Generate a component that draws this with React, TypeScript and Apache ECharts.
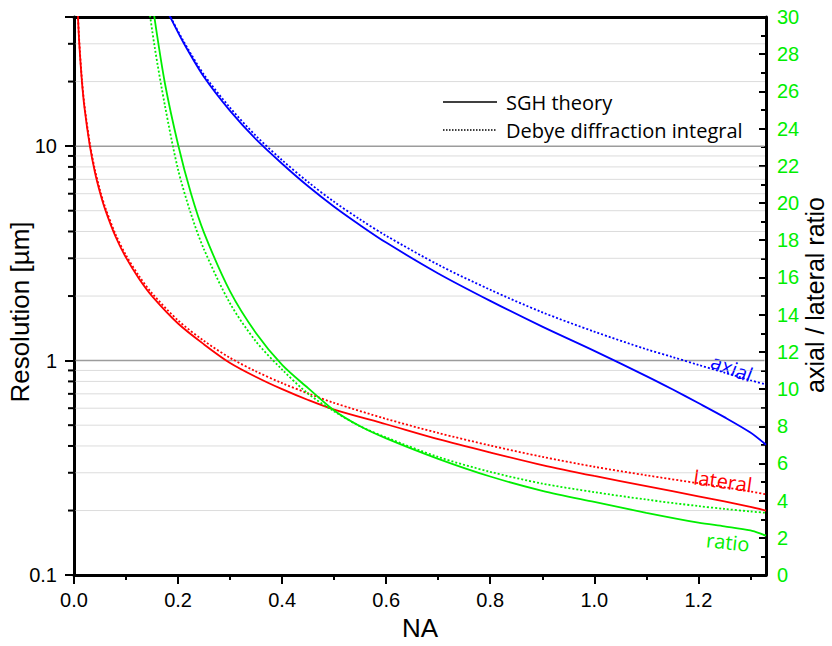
import React, { useEffect, useRef } from 'react';
import * as echarts from 'echarts';

// ---- data ----
const LATERAL_NA = [0.005, 0.0075, 0.01, 0.015, 0.02, 0.03, 0.04, 0.05, 0.06, 0.08, 0.1, 0.125, 0.15, 0.2, 0.25, 0.3, 0.35, 0.4, 0.45, 0.5, 0.6, 0.7, 0.8, 0.9, 1.0, 1.1, 1.2, 1.25, 1.3, 1.33];
const LATERAL_SGH = [62, 41, 30.5, 20.3, 15.2, 10.2, 7.6, 6.08, 5.06, 3.78, 3.02, 2.41, 2.0, 1.49, 1.19, 0.975, 0.839, 0.736, 0.655, 0.591, 0.505, 0.43, 0.373, 0.326, 0.29, 0.26, 0.233, 0.2205, 0.208, 0.2];
const LATERAL_DEBYE = [63, 42, 31.2, 20.8, 15.6, 10.45, 7.8, 6.23, 5.18, 3.88, 3.1, 2.48, 2.06, 1.54, 1.235, 1.03, 0.89, 0.785, 0.703, 0.635, 0.535, 0.46, 0.402, 0.356, 0.32, 0.292, 0.268, 0.257, 0.2455, 0.238];

const AXIAL_NA = [0.12, 0.15, 0.17, 0.186, 0.21, 0.25, 0.3, 0.35, 0.4, 0.45, 0.5, 0.55, 0.6, 0.7, 0.8, 0.9, 1.0, 1.1, 1.15, 1.2, 1.25, 1.3, 1.33];
const AXIAL_SGH = [93, 60, 47, 39.5, 30.5, 21, 14.6, 10.75, 8.28, 6.5, 5.22, 4.28, 3.55, 2.55, 1.9, 1.44, 1.11, 0.847, 0.735, 0.634, 0.545, 0.462, 0.405];
const AXIAL_DEBYE = [95, 61, 47.5, 39.8, 31, 21.5, 15.1, 11.15, 8.6, 6.8, 5.5, 4.55, 3.82, 2.8, 2.14, 1.68, 1.365, 1.13, 1.04, 0.955, 0.88, 0.81, 0.775];

const RATIO_NA = [0.1, 0.12, 0.14, 0.155, 0.175, 0.2, 0.225, 0.25, 0.3, 0.35, 0.4, 0.45, 0.5, 0.55, 0.6, 0.7, 0.8, 0.9, 1.0, 1.1, 1.2, 1.25, 1.3, 1.33];
const RATIO_SGH = [46, 38.4, 33, 29.9, 26.4, 23.15, 20.5, 18.4, 15.25, 13.0, 11.3, 10.05, 8.85, 8.0, 7.35, 6.25, 5.3, 4.53, 3.93, 3.35, 2.82, 2.62, 2.4, 2.12];
const RATIO_DEBYE = [44, 36.6, 31.4, 28.4, 25.2, 21.8, 19.4, 17.5, 14.6, 12.55, 11.05, 9.75, 8.8, 8.0, 7.4, 6.35, 5.55, 4.92, 4.46, 4.06, 3.71, 3.56, 3.42, 3.35];

const X_MIN = 0;
const X_MAX = 1.33;
const X_MAJOR_TICKS = [0, 0.2, 0.4, 0.6, 0.8, 1.0, 1.2];
const X_MINOR_TICKS = [0.1, 0.3, 0.5, 0.7, 0.9, 1.1, 1.3];
const LOG_MIN = 0.1;
const LOG_MAX = 40;
const LOG_LABELS = [0.1, 1, 10];
const LOG_MAJOR_GRID = [1, 10];
const LOG_MINOR_GRID = [0.2, 0.3, 0.4, 0.5, 0.6, 0.7, 0.8, 0.9, 2, 3, 4, 5, 6, 7, 8, 9, 20, 30];
const RATIO_MIN = 0;
const RATIO_MAX = 30;
const RATIO_STEP = 2;

const RED = '#ff0000';
const BLUE = '#0000ff';
const GREEN = '#00ee00';
const AXIS_FONT = '"Liberation Sans", Arial, sans-serif';
const NOTE_FONT = '"Open Sans", "Noto Sans", sans-serif';

const pairs = (xs: number[], ys: number[]) => xs.map((x, i) => [x, ys[i]]);

export default function App() {
  const ref = useRef<HTMLDivElement>(null);
  useEffect(() => {
    if (!ref.current) return;
    const chart = echarts.init(ref.current, undefined, { renderer: 'svg' });
    const gridData = [
      ...LOG_MAJOR_GRID.map((v) => [0, v, 1]),
      ...LOG_MINOR_GRID.map((v) => [0, v, 0]),
    ];
    const solid = (color: string) => ({ color, width: 1.8, type: 'solid' as const });
    const dotted = (color: string) => ({ color, width: 1.8, type: [2, 2] as any });
    const lineSeries = (name: string, data: number[][], style: any, yAxisIndex: number) => ({
      name,
      type: 'line',
      data,
      yAxisIndex,
      xAxisIndex: 0,
      showSymbol: false,
      symbol: 'none',
      smooth: 0.3,
      clip: true,
      lineStyle: style,
      z: 5,
      silent: true,
    });

    chart.setOption({
      animation: false,
      grid: { left: 74, right: 66, top: 17, bottom: 65, containLabel: false },
      xAxis: [
        {
          type: 'value',
          min: X_MIN,
          max: X_MAX,
          position: 'bottom',
          name: 'NA',
          nameLocation: 'middle',
          nameGap: 37,
          nameTextStyle: { fontSize: 26, fontFamily: AXIS_FONT, color: '#000' },
          axisLine: { show: true, onZero: false, lineStyle: { color: '#000', width: 3 } },
          axisTick: { show: true, inside: false, length: 9, lineStyle: { color: '#000', width: 2 }, customValues: X_MAJOR_TICKS },
          axisLabel: {
            show: true,
            customValues: X_MAJOR_TICKS,
            margin: 15,
            fontSize: 20,
            fontFamily: AXIS_FONT,
            color: '#000',
            formatter: (v: number) => v.toFixed(1),
          },
          splitLine: { show: false },
        },
        {
          type: 'value',
          min: X_MIN,
          max: X_MAX,
          position: 'bottom',
          axisLine: { show: false, onZero: false },
          axisTick: { show: true, inside: false, length: 5, lineStyle: { color: '#000', width: 2 }, customValues: X_MINOR_TICKS },
          axisLabel: { show: false },
          splitLine: { show: false },
        },
        {
          type: 'value',
          min: X_MIN,
          max: X_MAX,
          position: 'top',
          axisLine: { show: true, onZero: false, lineStyle: { color: '#000', width: 3 } },
          axisTick: { show: false },
          axisLabel: { show: false },
          splitLine: { show: false },
        },
      ],
      yAxis: [
        {
          type: 'log',
          logBase: 10,
          min: LOG_MIN,
          max: LOG_MAX,
          position: 'left',
          axisLine: { show: true, onZero: false, lineStyle: { color: '#000', width: 3 } },
          axisTick: { show: true, inside: false, length: 9, lineStyle: { color: '#000', width: 2 } },
          axisLabel: {
            show: true,
            margin: 17,
            fontSize: 20,
            fontFamily: AXIS_FONT,
            color: '#000',
            formatter: (v: number) => {
              const hit = LOG_LABELS.find((t) => Math.abs(t - v) / t < 1e-6);
              return hit === undefined ? '' : String(hit);
            },
          },
          splitLine: { show: false },
          minorTick: { show: false },
        },
        {
          type: 'value',
          min: RATIO_MIN,
          max: RATIO_MAX,
          interval: RATIO_STEP,
          position: 'right',
          axisLine: { show: true, onZero: false, lineStyle: { color: '#000', width: 3 } },
          axisTick: { show: true, inside: true, length: 7, lineStyle: { color: '#000', width: 2 } },
          minorTick: { show: true, splitNumber: 2, length: 5, lineStyle: { color: '#000', width: 2 } },
          axisLabel: { show: true, margin: 11, fontSize: 20, fontFamily: AXIS_FONT, color: GREEN },
          splitLine: { show: false },
        },
      ],
      graphic: [
        { type: 'line', shape: { x1: 443, y1: 102, x2: 497, y2: 102 }, style: { stroke: '#000', lineWidth: 1.5 }, silent: true },
        { type: 'line', shape: { x1: 443, y1: 130, x2: 497, y2: 130 }, style: { stroke: '#000', lineWidth: 1.5, lineDash: [1.5, 1.5] }, silent: true },
        { type: 'text', x: 506, y: 102, style: { text: 'SGH theory', fill: '#000', font: `20px ${NOTE_FONT}`, textVerticalAlign: 'middle', textAlign: 'left' }, silent: true },
        { type: 'text', x: 506, y: 130, style: { text: 'Debye diffraction integral', fill: '#000', font: `20px ${NOTE_FONT}`, textVerticalAlign: 'middle', textAlign: 'left' }, silent: true },
        { type: 'text', x: 732, y: 368, rotation: (-21 * Math.PI) / 180, style: { text: 'axial', fill: BLUE, font: `20px ${NOTE_FONT}`, textAlign: 'center', textVerticalAlign: 'middle' }, silent: true },
        { type: 'text', x: 723, y: 481, rotation: (-8 * Math.PI) / 180, style: { text: 'lateral', fill: RED, font: `20px ${NOTE_FONT}`, textAlign: 'center', textVerticalAlign: 'middle' }, silent: true },
        { type: 'text', x: 728, y: 542, rotation: (-6 * Math.PI) / 180, style: { text: 'ratio', fill: GREEN, font: `20px ${NOTE_FONT}`, textAlign: 'center', textVerticalAlign: 'middle' }, silent: true },
        { type: 'text', x: 20, y: 312, rotation: Math.PI / 2, style: { text: 'Resolution [µm]', fill: '#000', font: `26px ${AXIS_FONT}`, textAlign: 'center', textVerticalAlign: 'middle' }, silent: true },
        { type: 'text', x: 815, y: 295, rotation: Math.PI / 2, style: { text: 'axial / lateral ratio', fill: '#000', font: `25px ${AXIS_FONT}`, textAlign: 'center', textVerticalAlign: 'middle' }, silent: true },
      ],
      series: [
        {
          type: 'custom',
          name: 'grid',
          xAxisIndex: 0,
          yAxisIndex: 0,
          clip: false,
          silent: true,
          z: 1,
          data: gridData,
          renderItem: (params: any, api: any) => {
            const v = api.value(1);
            const major = api.value(2) === 1;
            const p0 = api.coord([X_MIN, v]);
            const p1 = api.coord([X_MAX, v]);
            const children: any[] = [
              {
                type: 'line',
                shape: { x1: p0[0] + 1.5, y1: p0[1], x2: p1[0] - 1.5, y2: p1[1] },
                style: major
                  ? { stroke: '#9c9c9c', lineWidth: 1.5 }
                  : { stroke: '#b8b8b8', lineWidth: 1, lineDash: [1, 1] },
              },
            ];
            if (!major) {
              children.push({
                type: 'line',
                shape: { x1: p0[0] - 6, y1: p0[1], x2: p0[0], y2: p0[1] },
                style: { stroke: '#000', lineWidth: 2 },
              });
            }
            return { type: 'group', children };
          },
        },
        lineSeries('axial SGH', pairs(AXIAL_NA, AXIAL_SGH), solid(BLUE), 0),
        lineSeries('axial Debye', pairs(AXIAL_NA, AXIAL_DEBYE), dotted(BLUE), 0),
        lineSeries('lateral SGH', pairs(LATERAL_NA, LATERAL_SGH), solid(RED), 0),
        lineSeries('lateral Debye', pairs(LATERAL_NA, LATERAL_DEBYE), dotted(RED), 0),
        lineSeries('ratio SGH', pairs(RATIO_NA, RATIO_SGH), solid(GREEN), 1),
        lineSeries('ratio Debye', pairs(RATIO_NA, RATIO_DEBYE), dotted(GREEN), 1),
      ],
    });
    return () => chart.dispose();
  }, []);
  return <div ref={ref} style={{ position: 'absolute', left: 0, top: 0, width: 832, height: 646, background: '#fff' }} />;
}
